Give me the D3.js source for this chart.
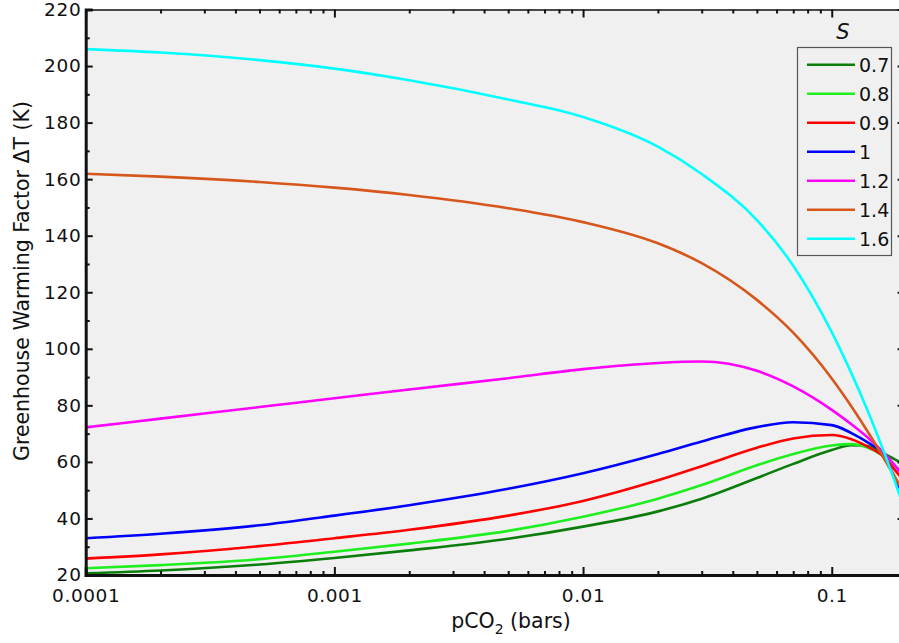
<!DOCTYPE html>
<html>
<head>
<meta charset="utf-8">
<script src="https://cdn.jsdelivr.net/npm/d3@7/dist/d3.min.js"></script>
<style>
  html, body { margin: 0; padding: 0; background: #ffffff; }
  svg { display: block; }
  text { font-family: "DejaVu Sans", "Liberation Sans", sans-serif; fill: #111; }
</style>
</head>
<body>
<svg id="chart" width="899" height="643"></svg>
<script>
// pCO2 sample points (bars)
const pco2 = [1e-4, 2e-4, 5e-4, 1e-3, 2e-3, 5e-3, 0.01, 0.02, 0.03, 0.05, 0.07, 0.1, 0.12, 0.14, 0.16, 0.18, 0.2];

// Greenhouse warming factor ΔT (K) for each value of S
const seriesS = ["0.7", "0.8", "0.9", "1", "1.2", "1.4", "1.6"];
const dT_07 = [20.6, 21.6, 23.7, 26.0, 28.7, 32.8, 37.1, 42.5, 47.0, 54.3, 59.3, 64.2, 65.9, 65.6, 63.2, 60.8, 58.8];
const dT_08 = [22.4, 23.5, 25.6, 28.2, 31.1, 35.6, 40.6, 47.0, 51.8, 58.8, 62.8, 65.8, 66.3, 65.0, 62.3, 58.5, 55.0];
const dT_09 = [25.8, 27.3, 30.2, 33.0, 36.0, 41.0, 46.2, 53.5, 58.5, 65.0, 68.3, 69.5, 68.0, 65.3, 62.2, 57.0, 52.0];
const dT_10 = [33.0, 34.6, 37.6, 41.0, 44.7, 50.5, 56.0, 62.8, 67.2, 72.3, 74.0, 73.0, 70.2, 66.8, 63.0, 54.0, 45.5];
const dT_12 = [72.2, 75.3, 79.4, 82.5, 85.6, 89.6, 92.8, 95.0, 95.5, 92.2, 86.7, 78.4, 73.3, 68.5, 63.7, 58.6, 53.4];
const dT_14 = [161.9, 160.9, 159.0, 157.0, 154.4, 149.7, 144.8, 137.3, 130.3, 117.3, 105.7, 89.5, 79.6, 70.5, 62.1, 54.5, 47.4];
const dT_16 = [206.0, 204.8, 202.1, 199.1, 195.0, 188.2, 182.0, 171.5, 161.8, 145.5, 129.4, 105.9, 91.3, 77.7, 64.8, 52.7, 41.2];
const seriesValues = [dT_07, dT_08, dT_09, dT_10, dT_12, dT_14, dT_16];
const seriesColors = ["#0b7d0b", "#1fee1f", "#ff0000", "#0000ff", "#ff00ff", "#d6561c", "#00ffff"];

// Axis ticks
const yTicks = [20, 40, 60, 80, 100, 120, 140, 160, 180, 200, 220];
const yMinorTicks = [30, 50, 70, 90, 110, 130, 150, 170, 190, 210];
const xTicks = [1e-4, 1e-3, 1e-2, 1e-1];
const xTickLabels = ["0.0001", "0.001", "0.01", "0.1"];

const svg = d3.select("#chart");
const plotLeft = 85.7, plotRight = 906.6, plotTop = 9.5, plotBottom = 575;

const x = d3.scaleLog().domain([1e-4, 0.2]).range([plotLeft, plotRight]);
const y = d3.scaleLinear().domain([20, 220]).range([plotBottom, plotTop]);

// minor log ticks: 2..9 in each decade
const xMinorTicks = [];
for (let e = -4; e <= -1; e++) {
  for (let m = 2; m <= 9; m++) {
    const v = m * Math.pow(10, e);
    if (v <= 0.2) xMinorTicks.push(v);
  }
}

// plot background
svg.append("rect")
  .attr("x", plotLeft).attr("y", plotTop)
  .attr("width", plotRight - plotLeft).attr("height", plotBottom - plotTop)
  .attr("fill", "#f0f0f0");

svg.append("clipPath").attr("id", "plotClip")
  .append("rect")
  .attr("x", plotLeft).attr("y", plotTop)
  .attr("width", plotRight - plotLeft).attr("height", plotBottom - plotTop);

// curves
const line = d3.line()
  .x((d, i) => x(pco2[i]))
  .y(d => y(d))
  .curve(d3.curveMonotoneX);

const curves = svg.append("g").attr("clip-path", "url(#plotClip)");
seriesValues.forEach((vals, k) => {
  curves.append("path")
    .attr("d", line(vals))
    .attr("fill", "none")
    .attr("stroke", seriesColors[k])
    .attr("stroke-width", 2.6);
});

function styleTicks(g, width) {
  g.selectAll(".tick line").attr("stroke", "#111").attr("stroke-width", width);
}

// bottom axis
const gBottom = svg.append("g").attr("transform", `translate(0,${plotBottom})`)
  .call(d3.axisBottom(x).tickValues(xTicks).tickFormat((d, i) => xTickLabels[i]).tickSize(-8).tickPadding(14));
gBottom.select(".domain").attr("stroke", "#111").attr("stroke-width", 3);
styleTicks(gBottom, 2);
gBottom.selectAll(".tick text").attr("font-size", 18.5).attr("fill", "#111")
  .attr("font-family", "DejaVu Sans").attr("letter-spacing", 0.6);
const gBottomMinor = svg.append("g").attr("transform", `translate(0,${plotBottom})`)
  .call(d3.axisBottom(x).tickValues(xMinorTicks).tickFormat("").tickSize(-4));
gBottomMinor.select(".domain").remove();
styleTicks(gBottomMinor, 2);

// top axis
const gTop = svg.append("g").attr("transform", `translate(0,${plotTop})`)
  .call(d3.axisTop(x).tickValues(xTicks).tickFormat("").tickSize(-8));
gTop.select(".domain").attr("stroke", "#111").attr("stroke-width", 1.6);
styleTicks(gTop, 2);
const gTopMinor = svg.append("g").attr("transform", `translate(0,${plotTop})`)
  .call(d3.axisTop(x).tickValues(xMinorTicks).tickFormat("").tickSize(-4));
gTopMinor.select(".domain").remove();
styleTicks(gTopMinor, 2);

// left axis
const gLeft = svg.append("g").attr("transform", `translate(${plotLeft},0)`)
  .call(d3.axisLeft(y).tickValues(yTicks).tickSize(-7).tickPadding(4));
gLeft.select(".domain").attr("stroke", "#111").attr("stroke-width", 3);
styleTicks(gLeft, 2);
gLeft.selectAll(".tick text").attr("font-size", 18.5).attr("fill", "#111")
  .attr("font-family", "DejaVu Sans").attr("letter-spacing", 0.8);
const gLeftMinor = svg.append("g").attr("transform", `translate(${plotLeft},0)`)
  .call(d3.axisLeft(y).tickValues(yMinorTicks).tickFormat("").tickSize(-4));
gLeftMinor.select(".domain").remove();
styleTicks(gLeftMinor, 2);

// right axis
const gRight = svg.append("g").attr("transform", `translate(${plotRight},0)`)
  .call(d3.axisRight(y).tickValues(yTicks).tickFormat("").tickSize(-9));
gRight.select(".domain").attr("stroke", "#111").attr("stroke-width", 1.6);
styleTicks(gRight, 2);

// axis titles
const xTitle = svg.append("text")
  .attr("x", 511).attr("y", 628)
  .attr("text-anchor", "middle")
  .attr("font-size", 20.5);
xTitle.append("tspan").text("pCO");
xTitle.append("tspan").attr("font-size", 14).attr("dy", 6).text("2");
xTitle.append("tspan").attr("dy", -6).text(" (bars)");

svg.append("text")
  .attr("transform", "translate(29,281) rotate(-90)")
  .attr("text-anchor", "middle")
  .attr("font-size", 20.5)
  .text("Greenhouse Warming Factor ΔT (K)");

// legend
const lg = svg.append("g");
lg.append("text")
  .attr("x", 843).attr("y", 39)
  .attr("text-anchor", "middle")
  .attr("font-family", "DejaVu Serif")
  .attr("font-style", "italic")
  .attr("font-size", 21)
  .text("S");
lg.append("rect")
  .attr("x", 797.5).attr("y", 47.5)
  .attr("width", 94).attr("height", 208)
  .attr("fill", "#f0f0f0")
  .attr("stroke", "#555").attr("stroke-width", 1.2);
seriesS.forEach((s, k) => {
  const yy = 64.7 + k * 29;
  lg.append("line")
    .attr("x1", 807).attr("x2", 855)
    .attr("y1", yy).attr("y2", yy)
    .attr("stroke", seriesColors[k]).attr("stroke-width", 2.6);
  lg.append("text")
    .attr("x", 859).attr("y", yy + 7)
    .attr("font-size", 19)
    .text(s);
});
</script>
</body>
</html>
